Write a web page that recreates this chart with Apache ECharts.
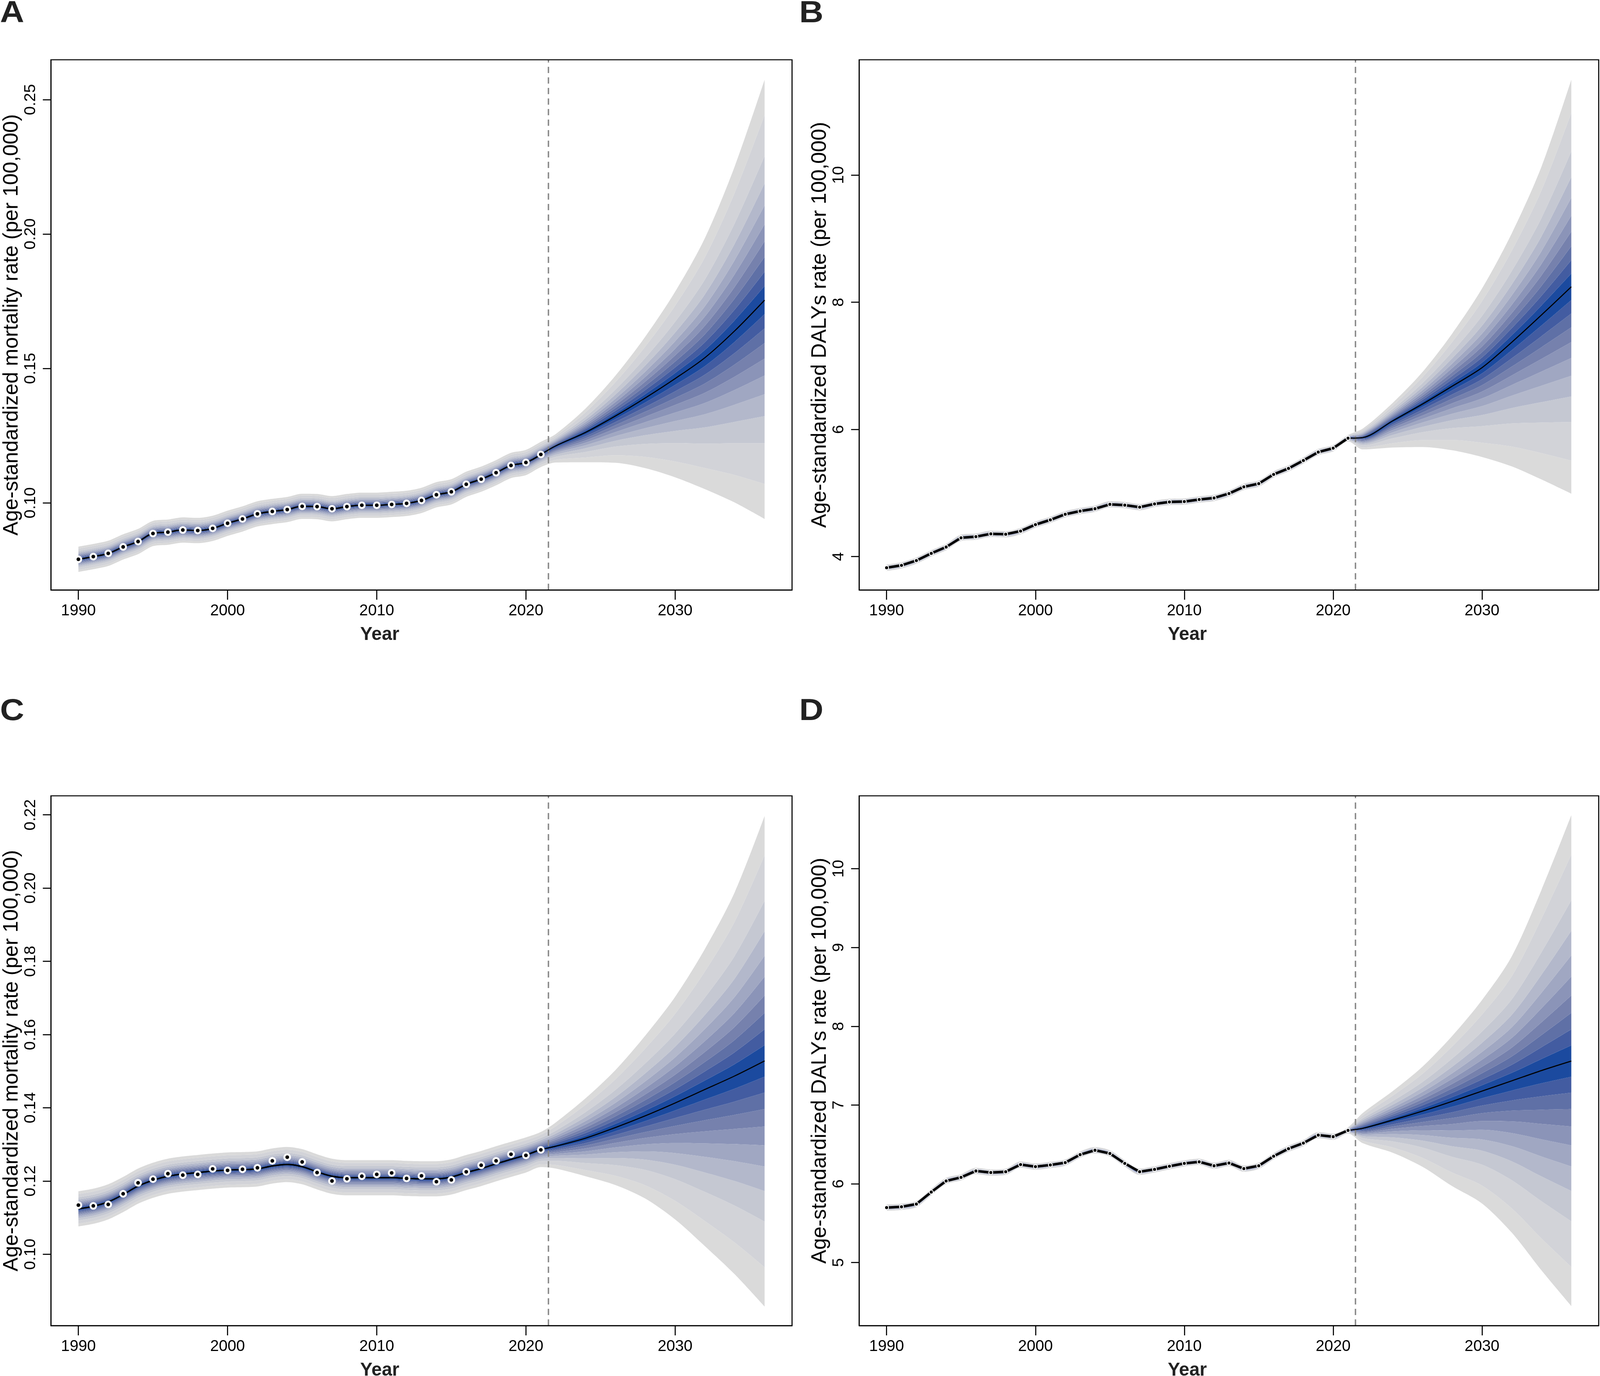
<!DOCTYPE html>
<html>
<head>
<meta charset="utf-8">
<script src="https://cdn.jsdelivr.net/npm/echarts@6/dist/echarts.min.js"></script>
<style>
html, body { margin: 0; padding: 0; background: #fff; overflow: hidden; }
#main { width: 100vw; height: 100vh; }
</style>
</head>
<body>
<div id="main"></div>
<script>
// observed years and projection years
var histYears = [1990, 1991, 1992, 1993, 1994, 1995, 1996, 1997, 1998, 1999, 2000, 2001, 2002, 2003, 2004, 2005,
	2006, 2007, 2008, 2009, 2010, 2011, 2012, 2013, 2014, 2015, 2016, 2017, 2018, 2019, 2020, 2021];
var projYears = [2022, 2024, 2026, 2028, 2030, 2032, 2034, 2036];

// A  mortality
var obsA = [0.0790, 0.0800, 0.0812, 0.0836, 0.0856, 0.0886, 0.0891, 0.0899, 0.0897, 0.0905, 0.0924, 0.0940, 0.0959, 0.0968, 0.0975, 0.0987,
	0.0986, 0.0978, 0.0986, 0.0991, 0.0991, 0.0994, 0.0998, 0.1009, 0.1030, 0.1041, 0.1069, 0.1088, 0.1112, 0.1139, 0.1150, 0.1180];
var midA = [0.1212, 0.1262, 0.1323, 0.1390, 0.1462, 0.1540, 0.1640, 0.1754];
var upA = [0.1256, 0.1351, 0.1473, 0.1618, 0.1785, 0.1985, 0.2252, 0.2574];
var lowA = [0.1150, 0.1151, 0.1149, 0.1129, 0.1095, 0.1051, 0.1001, 0.0940];
var histHalfA = 0.0047;

// B  DALYs
var obsB = [3.824, 3.862, 3.937, 4.050, 4.150, 4.295, 4.313, 4.357, 4.351, 4.401, 4.502, 4.577, 4.665, 4.715, 4.752, 4.821,
	4.809, 4.777, 4.828, 4.859, 4.865, 4.897, 4.922, 4.991, 5.097, 5.147, 5.292, 5.386, 5.511, 5.643, 5.705, 5.862];
var midB = [5.872, 6.135, 6.398, 6.680, 6.970, 7.370, 7.800, 8.243];
var upB = [6.014, 6.417, 6.902, 7.508, 8.215, 9.084, 10.134, 11.500];
var lowB = [5.685, 5.715, 5.723, 5.671, 5.566, 5.418, 5.212, 4.989];
var histHalfB = 0.05;

// C  mortality
var obsC = [0.1134, 0.1132, 0.1136, 0.1165, 0.1195, 0.1205, 0.1220, 0.1216, 0.1218, 0.1233, 0.1229, 0.1232, 0.1236, 0.1255, 0.1265, 0.1252,
	0.1223, 0.1200, 0.1206, 0.1213, 0.1218, 0.1222, 0.1207, 0.1214, 0.1198, 0.1203, 0.1225, 0.1243, 0.1255, 0.1273, 0.1270, 0.1285];
var fitC = [0.1124, 0.1131, 0.1143, 0.1163, 0.1186, 0.1202, 0.1213, 0.1219, 0.1223, 0.1227, 0.1230, 0.1231, 0.1233, 0.1241, 0.1245, 0.1239,
	0.1225, 0.1213, 0.1209, 0.1209, 0.1209, 0.1209, 0.1207, 0.1206, 0.1206, 0.1211, 0.1223, 0.1234, 0.1247, 0.1259, 0.1271, 0.1286];
var midC = [0.1295, 0.1317, 0.1346, 0.1378, 0.1413, 0.1450, 0.1487, 0.1528];
var upC = [0.1360, 0.1426, 0.1503, 0.1597, 0.1703, 0.1834, 0.1989, 0.2197];
var lowC = [0.1234, 0.1213, 0.1189, 0.1152, 0.1095, 0.1022, 0.0945, 0.0857];
var histHalfC = 0.0048;

// D  DALYs
var obsD = [5.698, 5.708, 5.743, 5.895, 6.036, 6.082, 6.163, 6.143, 6.153, 6.244, 6.218, 6.239, 6.269, 6.370, 6.426, 6.385,
	6.259, 6.153, 6.183, 6.223, 6.259, 6.279, 6.229, 6.264, 6.193, 6.229, 6.350, 6.446, 6.517, 6.618, 6.598, 6.678];
var midD = [6.705, 6.809, 6.923, 7.047, 7.177, 7.307, 7.438, 7.558];
var upD = [6.900, 7.177, 7.487, 7.878, 8.333, 8.888, 9.734, 10.679];
var lowD = [6.515, 6.395, 6.216, 5.970, 5.750, 5.380, 4.900, 4.448];
var histHalfD = 0.04;

// fan: share of the outer interval reached by each band edge (inner -> outer)
var bandRatio = [0.064, 0.129, 0.196, 0.267, 0.344, 0.43, 0.53, 0.654, 0.84, 1];
var bandColors = ['#1b4a9f', '#435ca1', '#5f70a6', '#7681ad', '#8b94b8', '#a0a7c2', '#b3b8cb', '#c5c8d2', '#d2d3d8', '#dadada'];

var cutYear = 2021.5;
var xTicks = [1990, 2000, 2010, 2020, 2030];
var yTicksA = [0.10, 0.15, 0.20, 0.25];
var yTicksB = [4, 6, 8, 10];
var yTicksC = [0.10, 0.12, 0.14, 0.16, 0.18, 0.20, 0.22];
var yTicksD = [5, 6, 7, 8, 9, 10];

var titleMort = 'Age-standardized mortality rate (per 100,000)';
var titleDaly = 'Age-standardized DALYs rate (per 100,000)';
var font = 'Liberation Sans';

// layout is measured on a 4931 x 3522 picture; the window may be a different size
var sx = window.innerWidth / 4931;
var sy = window.innerHeight / 3522;
var fs = Math.sqrt(sx * sy);
var rs = Math.sqrt(sy * fs);	// for text written upwards
function X(v) { return v * sx; }
function Y(v) { return v * sy; }
function F(v) { return v * fs; }

var grids = [
	{ left: 157, top: 153, width: 2284, height: 1357 },
	{ left: 2648, top: 153, width: 2279, height: 1357 },
	{ left: 157, top: 2037, width: 2284, height: 1356 },
	{ left: 2648, top: 2037, width: 2279, height: 1356 }
];

var panels = [
	{ fit: obsA, obs: obsA, mid: midA, up: upA, low: lowA, half: histHalfA, yMin: 0.0676, yMax: 0.2648, ticks: yTicksA, digits: 2, title: titleMort, smooth: 0.4, lineW: 4, dot: 16, dotBorder: 5.5 },
	{ fit: obsB, obs: obsB, mid: midB, up: upB, low: lowB, half: histHalfB, yMin: 3.475, yMax: 11.813, ticks: yTicksB, digits: 0, title: titleDaly, smooth: false, lineW: 7, dot: 11, dotBorder: 2.5 },
	{ fit: fitC, obs: obsC, mid: midC, up: upC, low: lowC, half: histHalfC, yMin: 0.0805, yMax: 0.2252, ticks: yTicksC, digits: 2, title: titleMort, smooth: 0.4, lineW: 4, dot: 16, dotBorder: 5.5 },
	{ fit: obsD, obs: obsD, mid: midD, up: upD, low: lowD, half: histHalfD, yMin: 4.200, yMax: 10.925, ticks: yTicksD, digits: 0, title: titleDaly, smooth: false, lineW: 7, dot: 11, dotBorder: 2.5 }
];

var xAxes = [], yAxes = [], series = [];

for (var p = 0; p < panels.length; p++) {
	var pn = panels[p];
	var xs = histYears.concat(projYears);
	var centre = pn.fit.concat(pn.mid);
	var devUp = [], devLow = [];
	for (var i = 0; i < xs.length; i++) {
		if (i < histYears.length) {
			devUp.push(pn.half);
			devLow.push(pn.half);
		} else {
			var j = i - histYears.length;
			devUp.push(pn.up[j] - pn.mid[j]);
			devLow.push(pn.mid[j] - pn.low[j]);
		}
	}
	// band edges from the outer lower one up to the outer upper one
	var edges = [];
	for (var k = bandRatio.length - 1; k >= 0; k--) {
		edges.push(centre.map(function(c, i) { return c - bandRatio[k] * devLow[i]; }));
	}
	for (var k = 0; k < bandRatio.length; k++) {
		edges.push(centre.map(function(c, i) { return c + bandRatio[k] * devUp[i]; }));
	}

	xAxes.push({
		type: 'value', gridIndex: p, min: 1988.16, max: 2037.84, z: 40,
		axisLine: { show: true, onZero: false, lineStyle: { color: '#000', width: F(3) } },
		axisTick: { show: true, length: Y(25), lineStyle: { color: '#000', width: F(3) }, customValues: xTicks },
		axisLabel: {
			fontSize: F(44), fontFamily: font, color: '#000', margin: Y(34), customValues: xTicks,
			formatter: function(v) { return String(v); }
		},
		splitLine: { show: false }
	});
	yAxes.push({
		type: 'value', gridIndex: p, min: pn.yMin, max: pn.yMax, z: 40,
		name: pn.title, nameLocation: 'middle', nameRotate: 90, nameGap: X(120) - 28 * rs,
		nameTextStyle: { fontSize: 56 * rs, fontFamily: font, color: '#000' },
		axisLine: { show: true, onZero: false, lineStyle: { color: '#000', width: F(3) } },
		axisTick: { show: true, length: X(25), lineStyle: { color: '#000', width: F(3) }, customValues: pn.ticks },
		axisLabel: {
			fontSize: 43 * rs, fontFamily: font, color: '#000', margin: X(62) - 21 * rs, rotate: 90, customValues: pn.ticks,
			formatter: (function(d) { return function(v) { return v.toFixed(d); }; })(pn.digits)
		},
		splitLine: { show: false }
	});

	// stacked bands; the value goes in the first column so that it is the stacked one
	for (var e = 0; e < edges.length; e++) {
		var ci;
		if (e <= 9) ci = 10 - e;
		else if (e == 10) ci = 0;
		else ci = e - 10;
		series.push({
			type: 'line', xAxisIndex: p, yAxisIndex: p, stack: 'fan' + p, smooth: 0.3, symbol: 'none', silent: true,
			encode: { x: 1, y: 0 },
			lineStyle: { width: 0, opacity: 0 }, z: 1,
			areaStyle: e == 0 ? null : { color: bandColors[ci], opacity: 1 },
			data: (function(e) {
				return xs.map(function(x, i) {
					return [e == 0 ? edges[0][i] : edges[e][i] - edges[e - 1][i], x];
				});
			})(e)
		});
	}

	// fitted history line
	series.push({
		type: 'line', xAxisIndex: p, yAxisIndex: p, smooth: pn.smooth, symbol: 'none', silent: true, z: 30,
		lineStyle: { color: '#000', width: F(pn.lineW) },
		data: histYears.map(function(x, i) { return [x, pn.fit[i]]; })
	});
	// projected line + cut marker
	var last = pn.fit[pn.fit.length - 1];
	series.push({
		type: 'line', xAxisIndex: p, yAxisIndex: p, smooth: 0.3, symbol: 'none', silent: true, z: 31,
		lineStyle: { color: '#000', width: F(3) },
		data: [[2021, last]].concat(projYears.map(function(x, i) { return [x, pn.mid[i]]; })),
		markLine: {
			symbol: 'none', silent: true, label: { show: false },
			lineStyle: { color: '#8a8a8a', width: F(4), type: [Y(16), Y(11)] },
			data: [{ xAxis: cutYear }]
		}
	});
	// observed points
	series.push({
		type: 'scatter', xAxisIndex: p, yAxisIndex: p, symbol: 'circle', symbolSize: F(pn.dot), silent: true, z: 32,
		itemStyle: { color: '#000', borderColor: '#fff', borderWidth: F(pn.dotBorder), opacity: 1 },
		data: histYears.map(function(x, i) { return [x, pn.obs[i]]; })
	});
}

var chart = echarts.init(document.getElementById('main'));
chart.setOption({
	animation: false,
	backgroundColor: '#fff',
	grid: grids.map(function(g) {
		return {
			left: X(g.left), top: Y(g.top), width: X(g.width), height: Y(g.height), z: 45,
			show: true, borderColor: '#000', borderWidth: F(3), backgroundColor: 'transparent'
		};
	}),
	xAxis: xAxes,
	yAxis: yAxes,
	series: series
});

// "Year" labels and panel letters
var letters = ['A', 'B', 'C', 'D'];
var letterPos = [[0, 35], [2463, 35], [0, 1821], [2463, 1821]];
var graphics = [];
for (var p = 0; p < panels.length; p++) {
	var pt = chart.convertToPixel({ gridIndex: p }, [2010.2, panels[p].yMin]);
	graphics.push({
		type: 'text', x: pt[0], y: pt[1] + Y(115), silent: true,
		style: { text: 'Year', fontSize: F(52), fontWeight: 'bold', fontFamily: font, fill: '#222', align: 'center', verticalAlign: 'middle' }
	});
	graphics.push({
		type: 'text', x: X(letterPos[p][0]), y: Y(letterPos[p][1]), scaleX: 1.2 * sx / fs, silent: true,
		style: { text: letters[p], fontSize: F(86), fontWeight: 'bold', fontFamily: font, fill: '#222', align: 'left', verticalAlign: 'middle' }
	});
}
chart.setOption({ graphic: graphics });
</script>
</body>
</html>
